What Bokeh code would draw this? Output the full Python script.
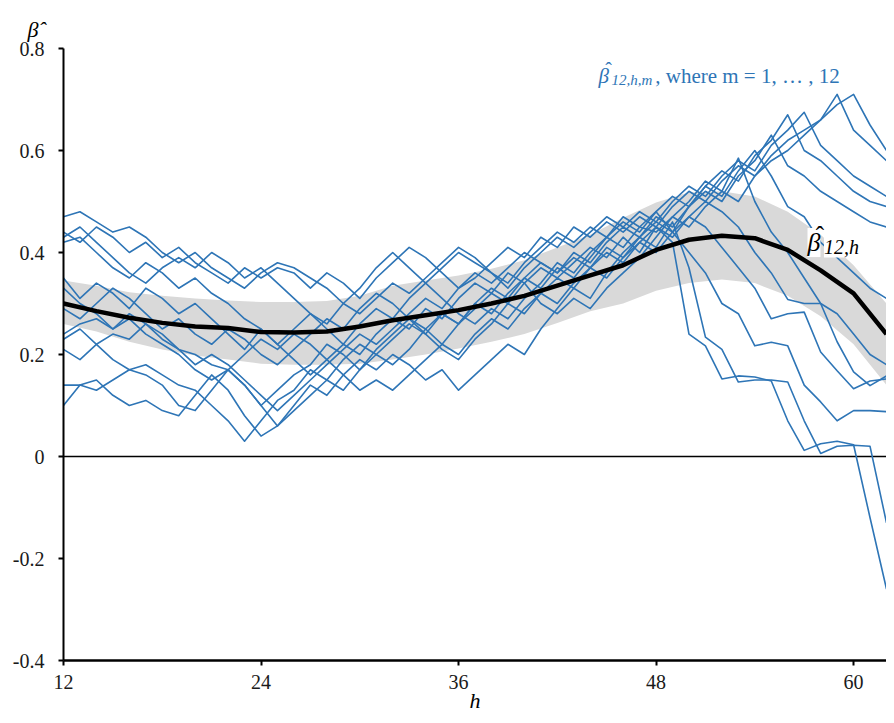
from bokeh.plotting import figure
from bokeh.models import Label, Span, FixedTicker
from bokeh.embed import file_html
from bokeh.resources import INLINE

# horizon h (months)
h = list(range(12, 63))

# beta_{12,h,m} for m = 1..12  (values at h = 12..62)
beta_m1 = [0.47, 0.48, 0.46, 0.44, 0.45, 0.43, 0.40, 0.38, 0.40, 0.37,
           0.35, 0.33, 0.36, 0.38, 0.37, 0.35, 0.33, 0.30, 0.28, 0.31,
           0.34, 0.32, 0.35, 0.38, 0.41, 0.39, 0.36, 0.34, 0.38, 0.41,
           0.44, 0.42, 0.45, 0.43, 0.47, 0.45, 0.44, 0.47, 0.45, 0.49,
           0.52, 0.50, 0.55, 0.58, 0.60, 0.63, 0.66, 0.69, 0.71, 0.65,
           0.60]
beta_m2 = [0.44, 0.42, 0.45, 0.43, 0.40, 0.42, 0.39, 0.41, 0.38, 0.36,
           0.34, 0.37, 0.35, 0.37, 0.36, 0.33, 0.36, 0.34, 0.31, 0.35,
           0.38, 0.41, 0.39, 0.36, 0.33, 0.35, 0.38, 0.41, 0.39, 0.43,
           0.41, 0.45, 0.43, 0.46, 0.44, 0.47, 0.45, 0.49, 0.52, 0.50,
           0.54, 0.57, 0.55, 0.59, 0.62, 0.64, 0.66, 0.71, 0.64, 0.61,
           0.58]
beta_m3 = [0.43, 0.45, 0.42, 0.39, 0.36, 0.34, 0.37, 0.39, 0.37, 0.40,
           0.38, 0.35, 0.37, 0.34, 0.31, 0.28, 0.25, 0.22, 0.26, 0.29,
           0.27, 0.31, 0.34, 0.37, 0.40, 0.38, 0.36, 0.33, 0.37, 0.40,
           0.43, 0.41, 0.44, 0.47, 0.45, 0.48, 0.46, 0.50, 0.53, 0.51,
           0.55, 0.58, 0.56, 0.61, 0.64, 0.675, 0.61, 0.58, 0.55, 0.53,
           0.51]
beta_m4 = [0.42, 0.43, 0.40, 0.37, 0.35, 0.38, 0.36, 0.33, 0.35, 0.32,
           0.30, 0.27, 0.25, 0.22, 0.25, 0.28, 0.26, 0.30, 0.33, 0.37,
           0.40, 0.37, 0.34, 0.31, 0.28, 0.26, 0.29, 0.27, 0.31, 0.34,
           0.38, 0.36, 0.40, 0.43, 0.46, 0.44, 0.48, 0.51, 0.49, 0.53,
           0.56, 0.54, 0.59, 0.62, 0.67, 0.60, 0.58, 0.55, 0.52, 0.50,
           0.49]
beta_m5 = [0.33, 0.30, 0.28, 0.25, 0.27, 0.24, 0.22, 0.20, 0.17, 0.15,
           0.17, 0.14, 0.10, 0.06, 0.09, 0.12, 0.15, 0.13, 0.17, 0.20,
           0.18, 0.21, 0.25, 0.28, 0.26, 0.30, 0.28, 0.32, 0.35, 0.38,
           0.36, 0.40, 0.38, 0.42, 0.45, 0.43, 0.47, 0.45, 0.49, 0.52,
           0.50, 0.55, 0.58, 0.63, 0.57, 0.55, 0.52, 0.50, 0.48, 0.46,
           0.45]
beta_m6 = [0.21, 0.19, 0.22, 0.24, 0.23, 0.26, 0.24, 0.21, 0.18, 0.20,
           0.18, 0.15, 0.12, 0.09, 0.12, 0.15, 0.18, 0.21, 0.24, 0.22,
           0.25, 0.28, 0.31, 0.29, 0.33, 0.36, 0.34, 0.37, 0.40, 0.38,
           0.36, 0.39, 0.37, 0.41, 0.39, 0.43, 0.46, 0.44, 0.49, 0.53,
           0.51, 0.56, 0.60, 0.55, 0.49, 0.47, 0.42, 0.39, 0.36, 0.33,
           0.31]
beta_m7 = [0.35, 0.31, 0.34, 0.32, 0.29, 0.33, 0.31, 0.28, 0.30, 0.27,
           0.24, 0.21, 0.25, 0.22, 0.19, 0.16, 0.19, 0.22, 0.20, 0.24,
           0.27, 0.25, 0.29, 0.27, 0.31, 0.34, 0.32, 0.36, 0.34, 0.30,
           0.28, 0.31, 0.29, 0.33, 0.36, 0.39, 0.43, 0.47, 0.50, 0.54,
           0.52, 0.585, 0.50, 0.44, 0.40, 0.35, 0.30, 0.28, 0.24, 0.20,
           0.18]
beta_m8 = [0.29, 0.27, 0.30, 0.33, 0.31, 0.28, 0.25, 0.27, 0.24, 0.22,
           0.25, 0.23, 0.20, 0.18, 0.21, 0.24, 0.27, 0.25, 0.29, 0.32,
           0.30, 0.27, 0.24, 0.21, 0.19, 0.23, 0.26, 0.30, 0.28, 0.32,
           0.35, 0.33, 0.37, 0.40, 0.38, 0.42, 0.45, 0.43, 0.47, 0.50,
           0.48, 0.45, 0.40, 0.36, 0.308, 0.30, 0.30, 0.225, 0.166, 0.139,
           0.158]
beta_m9 = [0.24, 0.26, 0.27, 0.25, 0.28, 0.26, 0.23, 0.21, 0.20, 0.18,
           0.17, 0.20, 0.23, 0.21, 0.24, 0.22, 0.19, 0.16, 0.13, 0.15,
           0.13, 0.16, 0.19, 0.22, 0.20, 0.24, 0.27, 0.25, 0.29, 0.32,
           0.30, 0.34, 0.37, 0.35, 0.39, 0.42, 0.40, 0.44, 0.47, 0.45,
           0.41, 0.37, 0.33, 0.27, 0.28, 0.283, 0.205, 0.168, 0.133, 0.148,
           0.152]
beta_m10 = [0.23, 0.25, 0.22, 0.19, 0.17, 0.18, 0.16, 0.14, 0.13, 0.10,
            0.07, 0.03, 0.07, 0.11, 0.13, 0.17, 0.15, 0.19, 0.22, 0.20,
            0.23, 0.26, 0.24, 0.28, 0.26, 0.30, 0.33, 0.31, 0.35, 0.33,
            0.37, 0.35, 0.39, 0.43, 0.41, 0.45, 0.48, 0.44, 0.40, 0.36,
            0.30, 0.28, 0.217, 0.224, 0.217, 0.14, 0.107, 0.07, 0.09, 0.09,
            0.088]
beta_m11 = [0.14, 0.14, 0.15, 0.12, 0.10, 0.11, 0.09, 0.08, 0.12, 0.16,
            0.13, 0.08, 0.04, 0.06, 0.10, 0.14, 0.12, 0.16, 0.19, 0.17,
            0.20, 0.18, 0.15, 0.17, 0.13, 0.16, 0.19, 0.22, 0.20, 0.25,
            0.29, 0.33, 0.31, 0.36, 0.40, 0.43, 0.41, 0.46, 0.37, 0.234,
            0.21, 0.146, 0.15, 0.15, 0.146, 0.07, 0.006, 0.02, 0.022, 0.02,
            -0.13]
beta_m12 = [0.10, 0.14, 0.13, 0.15, 0.17, 0.16, 0.14, 0.10, 0.09, 0.13,
            0.17, 0.14, 0.10, 0.13, 0.16, 0.18, 0.22, 0.20, 0.17, 0.21,
            0.24, 0.27, 0.25, 0.22, 0.26, 0.29, 0.32, 0.30, 0.34, 0.37,
            0.35, 0.38, 0.41, 0.39, 0.43, 0.40, 0.45, 0.42, 0.24, 0.217,
            0.152, 0.158, 0.156, 0.148, 0.07, 0.012, 0.025, 0.03, 0.023, -0.12,
            -0.26]
monthly_lines = [beta_m1, beta_m2, beta_m3, beta_m4, beta_m5, beta_m6,
                 beta_m7, beta_m8, beta_m9, beta_m10, beta_m11, beta_m12]

# average beta_{12,h} and its band
h_avg = list(range(12, 63, 2))
beta_12h = [0.300, 0.285, 0.272, 0.262, 0.255, 0.252, 0.244, 0.243, 0.245, 0.255,
            0.267, 0.277, 0.287, 0.300, 0.315, 0.335, 0.355, 0.375, 0.405, 0.425,
            0.433, 0.428, 0.405, 0.365, 0.320, 0.240]
band_upper = [0.345, 0.335, 0.322, 0.315, 0.310, 0.306, 0.303, 0.303, 0.305, 0.315,
              0.335, 0.345, 0.355, 0.368, 0.385, 0.410, 0.435, 0.468, 0.498, 0.518,
              0.520, 0.510, 0.480, 0.435, 0.375, 0.300]
band_lower = [0.260, 0.245, 0.225, 0.210, 0.198, 0.190, 0.182, 0.180, 0.180, 0.182,
              0.190, 0.200, 0.212, 0.225, 0.240, 0.262, 0.285, 0.300, 0.325, 0.340,
              0.347, 0.340, 0.315, 0.275, 0.220, 0.140]

x_ticks = [12, 24, 36, 48, 60]
y_ticks = [-0.4, -0.2, 0.0, 0.2, 0.4, 0.6, 0.8]
y_tick_labels = ["-0.4", "-0.2", "0", "0.2", "0.4", "0.6", "0.8"]

BLUE = "#2E75B6"
SERIF = "Liberation Serif"

p = figure(width=886, height=715, x_range=(12, 62), y_range=(-0.4, 0.8),
           output_backend="svg", toolbar_location=None,
           min_border_left=63, min_border_right=0, min_border_top=48, min_border_bottom=52)
p.outline_line_color = None
p.grid.visible = False
p.background_fill_color = "white"
p.border_fill_color = "white"

# y-axis title placed above the axis
p.title.text = "β̂"
p.title.align = "left"
p.title.offset = -36
p.title.text_font = SERIF
p.title.text_font_style = "italic"
p.title.text_font_size = "22px"
p.title.text_color = "black"
p.title.standoff = 13

p.varea(x=h_avg, y1=band_lower, y2=band_upper, fill_color="#D9D9D9", fill_alpha=1.0)
p.add_layout(Span(location=0, dimension="width", line_color="black", line_width=1.5, level="underlay"))
for ys in monthly_lines:
    p.line(h, ys, line_color=BLUE, line_width=1.6, line_join="round")
p.line(h_avg, beta_12h, line_color="black", line_width=4.5, line_join="round")

p.xaxis.ticker = FixedTicker(ticks=x_ticks)
p.yaxis.ticker = FixedTicker(ticks=y_ticks)
p.yaxis.major_label_overrides = {v: s for v, s in zip(y_ticks, y_tick_labels)}
p.axis.minor_tick_line_color = None
p.axis.major_tick_in = 0
p.axis.major_tick_out = 5
p.axis.axis_line_color = "black"
p.axis.major_tick_line_color = "black"
p.xaxis.axis_line_width = 2.5
p.yaxis.axis_line_width = 2
p.axis.major_tick_line_width = 2
p.axis.major_label_text_font = SERIF
p.axis.major_label_text_font_size = "20px"
p.axis.major_label_text_color = "#1a1a1a"
p.yaxis.major_label_standoff = 14
p.xaxis.major_label_standoff = 9
p.xaxis.axis_label = "h"
p.xaxis.axis_label_text_font = SERIF
p.xaxis.axis_label_text_font_style = "italic"
p.xaxis.axis_label_text_font_size = "22px"
p.xaxis.axis_label_text_color = "black"
p.xaxis.axis_label_standoff = -4

# blue annotation: beta-hat_{12,h,m}, where m = 1, ..., 12
p.add_layout(Label(x=44.5, y=0.747, text="β", text_font=SERIF, text_font_style="italic",
                   text_font_size="21px", text_color=BLUE, text_baseline="alphabetic"))
p.add_layout(Label(x=45.12, y=0.757, text="ˆ", text_font=SERIF,
                   text_font_size="20px", text_color=BLUE, text_baseline="alphabetic",
                   text_align="center"))
p.add_layout(Label(x=45.3, y=0.7376, text="12,h,m", text_font=SERIF, text_font_style="italic",
                   text_font_size="15px", text_color=BLUE, text_baseline="alphabetic"))
p.add_layout(Label(x=47.95, y=0.747, text=", where m = 1, … , 12", text_font=SERIF,
                   text_font_size="21px", text_color=BLUE, text_baseline="alphabetic"))

# black annotation: beta-hat_{12,h}
p.add_layout(Label(x=57.2, y=0.4195, text="β", text_font=SERIF, text_font_style="italic",
                   text_font_size="26px", text_color="black", text_baseline="alphabetic",
                   background_fill_color="white"))
p.add_layout(Label(x=58.2, y=0.4117, text="12,h", text_font=SERIF, text_font_style="italic",
                   text_font_size="20px", text_color="black", text_baseline="alphabetic",
                   background_fill_color="white"))
p.add_layout(Label(x=57.96, y=0.4325, text="ˆ", text_font=SERIF,
                   text_font_size="25px", text_color="black", text_baseline="alphabetic",
                   text_align="center"))

open("out.html", "w").write(file_html(p, INLINE))
